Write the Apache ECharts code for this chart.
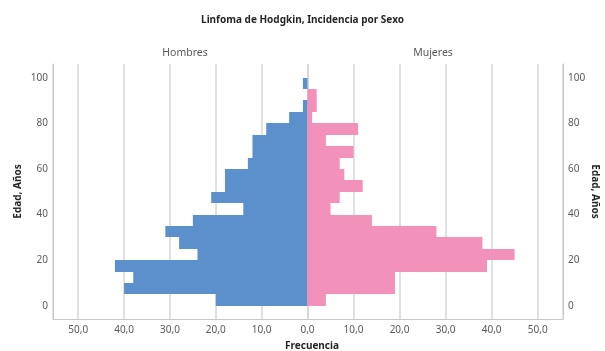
<!DOCTYPE html>
<html>
<head>
<meta charset="utf-8">
<script src="https://cdn.jsdelivr.net/npm/echarts@6/dist/echarts.min.js"></script>
<style>
  html, body { margin: 0; padding: 0; background: #fff; }
  #container { width: 605px; height: 351px; }
</style>
</head>
<body>
<div id="container"></div>
<script>
// grupos de edad de 5 años (inicio de cada grupo)
var edades = [0, 5, 10, 15, 20, 25, 30, 35, 40, 45, 50, 55, 60, 65, 70, 75, 80, 85, 90, 95];
var hombres = [20, 40, 38, 42, 24, 28, 31, 25, 14, 21, 18, 18, 13, 12, 12, 9, 4, 1, 0, 1];
var mujeres = [4, 19, 19, 39, 45, 38, 28, 14, 5, 7, 12, 8, 7, 10, 4, 11, 1, 2, 2, 0];
var ticksEdad = [0, 20, 40, 60, 80, 100];
var anchoGrupo = 5;

var font = 'Noto Sans';
var azul = '#5b90cc';
var rosa = '#f292bb';

var toRows = function (vals) {
    return vals.map((v, i) => [v, edades[i], edades[i] + anchoGrupo]);
};

// rectangulo de cada grupo, redondeado al pixel para que no se vean costuras
var renderBar = function (params, api) {
    var a = api.coord([api.value(0), api.value(1)]);
    var b = api.coord([0, api.value(2)]);
    var x0 = Math.min(a[0], b[0]), x1 = Math.max(a[0], b[0]);
    var y0 = Math.round(Math.min(a[1], b[1])), y1 = Math.round(Math.max(a[1], b[1]));
    return {
        type: 'rect',
        shape: { x: x0, y: y0, width: x1 - x0, height: y1 - y0 },
        style: api.style({ stroke: null, lineWidth: 0 })
    };
};

var fmt = function (v) {
    return v.toFixed(1).replace('.', ',');
};

var xAxisBase = function (idx, inverse) {
    return {
        type: 'value',
        gridIndex: idx,
        inverse: inverse,
        min: 0,
        max: 55.5,
        interval: 10,
        axisLine: { show: true, onZero: false, lineStyle: { color: '#c8c8c8', width: 1 } },
        axisTick: { show: false },
        splitLine: { show: true, lineStyle: { color: '#d6d6d6', width: 1.5 } },
        axisLabel: {
            margin: 6,
            color: '#595959',
            fontFamily: font,
            fontSize: 10,
            showMaxLabel: false,
            formatter: function (v) {
                if (idx === 1 && v === 0) return '';
                return fmt(v);
            }
        }
    };
};

var yAxisBase = function (idx, pos) {
    return {
        type: 'value',
        gridIndex: idx,
        position: pos,
        min: -5.8,
        max: 106,
        name: 'Edad, Años',
        nameLocation: 'middle',
        nameRotate: pos === 'left' ? 90 : -90,
        nameGap: pos === 'left' ? 30 : 27,
        nameTextStyle: { fontFamily: font, fontWeight: 'bold', fontSize: 10, color: '#262626' },
        axisLine: { show: true, onZero: false, lineStyle: { color: '#c8c8c8', width: 1 } },
        axisTick: { show: false },
        splitLine: { show: false },
        axisLabel: {
            customValues: ticksEdad,
            margin: 5,
            color: '#595959',
            fontFamily: font,
            fontSize: 10
        }
    };
};

var myChart = echarts.init(document.getElementById('container'));

option = {
    backgroundColor: '#fff',
    animation: false,
    title: [{
        text: 'Linfoma de Hodgkin, Incidencia por Sexo',
        left: 'center',
        top: 10,
        textStyle: { fontFamily: font, fontWeight: 'bold', fontSize: 10, color: '#262626' }
    }, {
        text: 'Hombres',
        left: 180,
        top: 43,
        textAlign: 'center',
        textStyle: { fontFamily: font, fontWeight: 'normal', fontSize: 10.5, color: '#595959' }
    }, {
        text: 'Mujeres',
        left: 428,
        top: 43,
        textAlign: 'center',
        textStyle: { fontFamily: font, fontWeight: 'normal', fontSize: 10.5, color: '#595959' }
    }, {
        text: 'Frecuencia',
        left: 307,
        top: 336,
        textAlign: 'center',
        textStyle: { fontFamily: font, fontWeight: 'bold', fontSize: 10, color: '#262626' }
    }],
    grid: [
        { left: 53, right: 297.5, top: 64, bottom: 32 },
        { left: 307.5, right: 42, top: 64, bottom: 32 }
    ],
    xAxis: [xAxisBase(0, true), xAxisBase(1, false)],
    yAxis: [yAxisBase(0, 'left'), yAxisBase(1, 'right')],
    series: [{
        name: 'Hombres',
        type: 'custom',
        xAxisIndex: 0,
        yAxisIndex: 0,
        itemStyle: { color: azul },
        renderItem: renderBar,
        encode: { x: 0, y: [1, 2] },
        data: toRows(hombres)
    }, {
        name: 'Mujeres',
        type: 'custom',
        xAxisIndex: 1,
        yAxisIndex: 1,
        itemStyle: { color: rosa },
        renderItem: renderBar,
        encode: { x: 0, y: [1, 2] },
        data: toRows(mujeres)
    }]
};
myChart.setOption(option);
</script>
</body>
</html>
